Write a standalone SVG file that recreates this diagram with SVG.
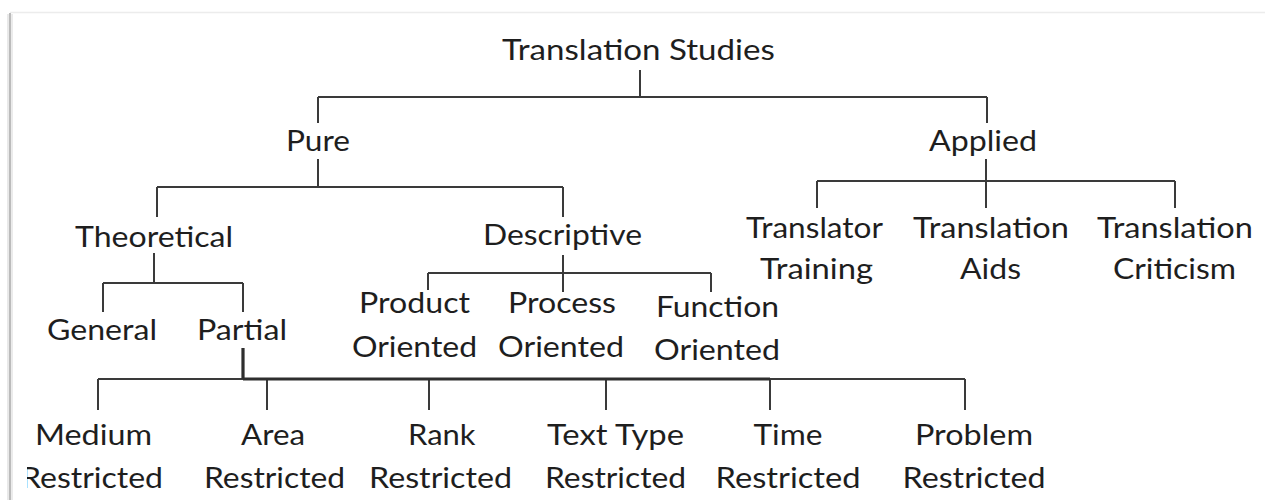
<svg xmlns="http://www.w3.org/2000/svg" width="1265" height="500" viewBox="0 0 1265 500">
<style>
text{font-family:Lato,"Open Sans","Liberation Sans",sans-serif;font-size:29px;fill:#1e1e1e;text-anchor:middle}
.c{stroke:#3a3a3a;stroke-width:2;fill:none}
.t{stroke:#2e2e2e;stroke-width:3.2;fill:none}
</style>
<defs>
<clipPath id="clipL"><rect x="27" y="0" width="1238" height="500"/></clipPath>
</defs>
<rect x="0" y="0" width="1265" height="500" fill="#fff"/>
<g id="frame">
<line x1="10" y1="12.5" x2="1265" y2="12.5" stroke="#ececec" stroke-width="1.5"/>
<line x1="8" y1="14" x2="8" y2="500" stroke="#e2e2e2" stroke-width="1.5"/>
<line x1="10" y1="13" x2="10" y2="500" stroke="#b4b4b4" stroke-width="1.8"/>
<line x1="12" y1="14" x2="12" y2="500" stroke="#e4e4e4" stroke-width="1.5"/>
</g>
<g id="connectors">
<path class="c" d="M640 70V97M318 97H987M318 97V123M987 97V123"/>
<path class="c" d="M318 159V187M157 187H563M157 187V217M563 187V217"/>
<path class="c" d="M986 159V208M817 181H1175M817 181V208M1175 181V208"/>
<path class="c" d="M154 253V283M103 283H243M103 283V312M243 283V312"/>
<path class="c" d="M563 255V292M428 273H711M428 273V290M711 273V292"/>
<path class="c" d="M98 379H965M98 379V410M267 379V410M429 379V410M606 379V410M770 379V410M965 379V410"/>
<path class="t" d="M243 348V379M243 379H770"/>
</g>
<g id="n-translation-studies"><text x="638.4" y="59.5" textLength="273" lengthAdjust="spacingAndGlyphs">Translation Studies</text></g>
<g id="n-pure"><text x="318" y="151" textLength="64" lengthAdjust="spacingAndGlyphs">Pure</text></g>
<g id="n-applied"><text x="983" y="151" textLength="108" lengthAdjust="spacingAndGlyphs">Applied</text></g>
<g id="n-theoretical"><text x="154" y="246.5" textLength="158" lengthAdjust="spacingAndGlyphs">Theoretical</text></g>
<g id="n-descriptive"><text x="562.5" y="245" textLength="159" lengthAdjust="spacingAndGlyphs">Descriptive</text></g>
<g id="n-translator-training"><text x="814.5" y="238" textLength="137" lengthAdjust="spacingAndGlyphs">Translator</text><text x="816.5" y="279" textLength="113" lengthAdjust="spacingAndGlyphs">Training</text></g>
<g id="n-translation-aids"><text x="991" y="238" textLength="156" lengthAdjust="spacingAndGlyphs">Translation</text><text x="990.5" y="279" textLength="61" lengthAdjust="spacingAndGlyphs">Aids</text></g>
<g id="n-translation-criticism"><text x="1175" y="238" textLength="156" lengthAdjust="spacingAndGlyphs">Translation</text><text x="1174.5" y="279" textLength="123" lengthAdjust="spacingAndGlyphs">Criticism</text></g>
<g id="n-general"><text x="102" y="340" textLength="110" lengthAdjust="spacingAndGlyphs">General</text></g>
<g id="n-partial"><text x="242" y="340" textLength="90" lengthAdjust="spacingAndGlyphs">Partial</text></g>
<g id="n-product"><text x="414.5" y="313" textLength="111" lengthAdjust="spacingAndGlyphs">Product</text><text x="414.5" y="357" textLength="125" lengthAdjust="spacingAndGlyphs">Oriented</text></g>
<g id="n-process"><text x="562" y="313" textLength="108" lengthAdjust="spacingAndGlyphs">Process</text><text x="561" y="357" textLength="126" lengthAdjust="spacingAndGlyphs">Oriented</text></g>
<g id="n-function"><text x="717.5" y="317" textLength="123" lengthAdjust="spacingAndGlyphs">Function</text><text x="717" y="360" textLength="126" lengthAdjust="spacingAndGlyphs">Oriented</text></g>
<g id="n-medium" clip-path="url(#clipL)"><text x="93.5" y="445" textLength="117" lengthAdjust="spacingAndGlyphs">Medium</text><text x="92" y="488" textLength="142" lengthAdjust="spacingAndGlyphs">Restricted</text></g>
<g id="n-area"><text x="273" y="445" textLength="64" lengthAdjust="spacingAndGlyphs">Area</text><text x="274.5" y="488" textLength="141" lengthAdjust="spacingAndGlyphs">Restricted</text></g>
<g id="n-rank"><text x="441.8" y="445" textLength="67.5" lengthAdjust="spacingAndGlyphs">Rank</text><text x="440.5" y="488" textLength="143" lengthAdjust="spacingAndGlyphs">Restricted</text></g>
<g id="n-text-type"><text x="615.5" y="445" textLength="137" lengthAdjust="spacingAndGlyphs">Text Type</text><text x="615.5" y="488" textLength="141" lengthAdjust="spacingAndGlyphs">Restricted</text></g>
<g id="n-time"><text x="788" y="445" textLength="69" lengthAdjust="spacingAndGlyphs">Time</text><text x="788" y="488" textLength="145" lengthAdjust="spacingAndGlyphs">Restricted</text></g>
<g id="n-problem"><text x="974" y="445" textLength="118" lengthAdjust="spacingAndGlyphs">Problem</text><text x="974" y="488" textLength="143" lengthAdjust="spacingAndGlyphs">Restricted</text></g>
</svg>
